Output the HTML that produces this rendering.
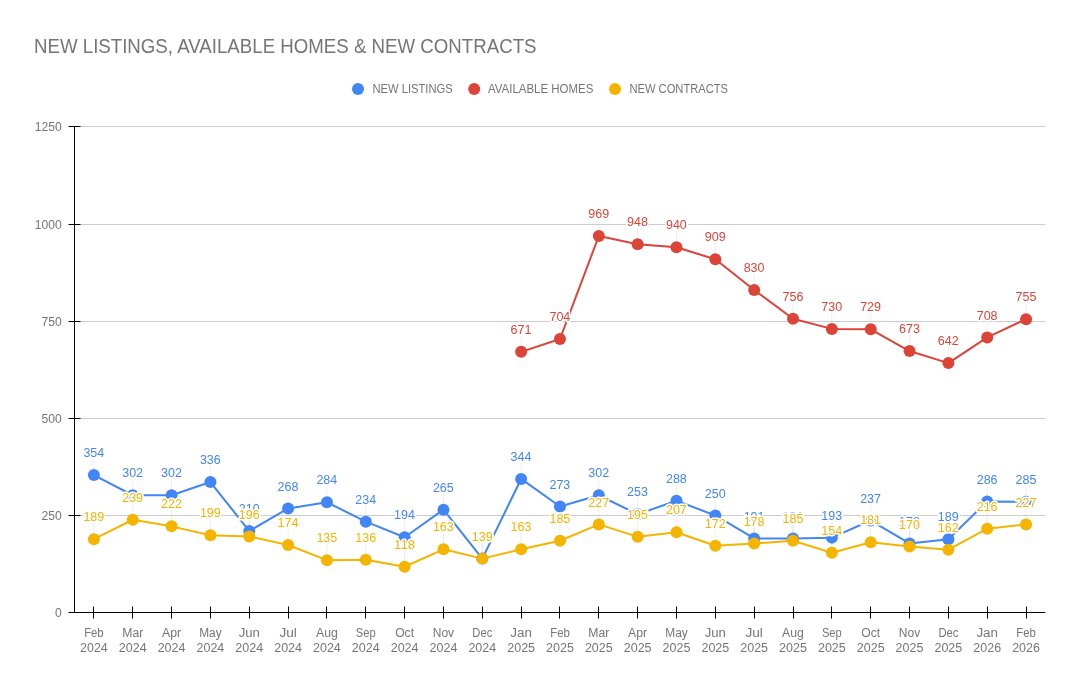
<!DOCTYPE html>
<html lang="en"><head><meta charset="utf-8"><title>NEW LISTINGS, AVAILABLE HOMES &amp; NEW CONTRACTS</title>
<style>
html,body{margin:0;padding:0;background:#fff;}
body{width:1080px;height:689px;overflow:hidden;}
svg{display:block;font-family:"Liberation Sans",sans-serif;}
text{font-size:12px;}
.t{font-size:20px;fill:#757575;}
.g{fill:#757575;}
.lg{fill:#757575;}
.a{text-anchor:middle;stroke:#fff;stroke-width:3px;stroke-linejoin:round;paint-order:stroke fill;}
.x{text-anchor:middle;fill:#757575;}
.y{text-anchor:end;fill:#757575;}
.grid line{stroke:#ccc;stroke-width:1;}
.ax line{stroke:#000;stroke-width:1;}
.stem line{stroke:#999;stroke-opacity:.18;stroke-width:1;}
</style></head><body>
<svg width="1080" height="689" viewBox="0 0 1080 689">
<rect width="1080" height="689" fill="#fff"/>
<text class="t" x="34" y="53" textLength="502.5" lengthAdjust="spacingAndGlyphs">NEW LISTINGS, AVAILABLE HOMES &amp; NEW CONTRACTS</text>
<circle cx="358" cy="89" r="6" fill="#4285f4"/><text class="lg" x="372.5" y="93" textLength="80.14" lengthAdjust="spacingAndGlyphs">NEW LISTINGS</text>
<circle cx="474.2" cy="89" r="6" fill="#db4437"/><text class="lg" x="488" y="93" textLength="105.4" lengthAdjust="spacingAndGlyphs">AVAILABLE HOMES</text>
<circle cx="615" cy="89" r="6" fill="#f4b400"/><text class="lg" x="629.5" y="93" textLength="98.5" lengthAdjust="spacingAndGlyphs">NEW CONTRACTS</text>
<g class="grid">
<line x1="74.5" x2="1045.5" y1="515.5" y2="515.5"/>
<line x1="74.5" x2="1045.5" y1="418.5" y2="418.5"/>
<line x1="74.5" x2="1045.5" y1="321.5" y2="321.5"/>
<line x1="74.5" x2="1045.5" y1="224.5" y2="224.5"/>
<line x1="74.5" x2="1045.5" y1="126.5" y2="126.5"/>
</g>
<g class="ax">
<line x1="74.5" x2="74.5" y1="126" y2="613"/>
<line x1="68.5" x2="1045.5" y1="612.5" y2="612.5"/>
<line x1="68.5" x2="80.5" y1="515.5" y2="515.5"/>
<line x1="68.5" x2="80.5" y1="418.5" y2="418.5"/>
<line x1="68.5" x2="80.5" y1="321.5" y2="321.5"/>
<line x1="68.5" x2="80.5" y1="224.5" y2="224.5"/>
<line x1="68.5" x2="80.5" y1="126.5" y2="126.5"/>
<line x1="93.5" x2="93.5" y1="606.5" y2="618.5"/>
<line x1="132.5" x2="132.5" y1="606.5" y2="618.5"/>
<line x1="171.5" x2="171.5" y1="606.5" y2="618.5"/>
<line x1="210.5" x2="210.5" y1="606.5" y2="618.5"/>
<line x1="249.5" x2="249.5" y1="606.5" y2="618.5"/>
<line x1="288.5" x2="288.5" y1="606.5" y2="618.5"/>
<line x1="326.5" x2="326.5" y1="606.5" y2="618.5"/>
<line x1="365.5" x2="365.5" y1="606.5" y2="618.5"/>
<line x1="404.5" x2="404.5" y1="606.5" y2="618.5"/>
<line x1="443.5" x2="443.5" y1="606.5" y2="618.5"/>
<line x1="482.5" x2="482.5" y1="606.5" y2="618.5"/>
<line x1="521.5" x2="521.5" y1="606.5" y2="618.5"/>
<line x1="559.5" x2="559.5" y1="606.5" y2="618.5"/>
<line x1="598.5" x2="598.5" y1="606.5" y2="618.5"/>
<line x1="637.5" x2="637.5" y1="606.5" y2="618.5"/>
<line x1="676.5" x2="676.5" y1="606.5" y2="618.5"/>
<line x1="715.5" x2="715.5" y1="606.5" y2="618.5"/>
<line x1="754.5" x2="754.5" y1="606.5" y2="618.5"/>
<line x1="793.5" x2="793.5" y1="606.5" y2="618.5"/>
<line x1="831.5" x2="831.5" y1="606.5" y2="618.5"/>
<line x1="870.5" x2="870.5" y1="606.5" y2="618.5"/>
<line x1="909.5" x2="909.5" y1="606.5" y2="618.5"/>
<line x1="948.5" x2="948.5" y1="606.5" y2="618.5"/>
<line x1="987.5" x2="987.5" y1="606.5" y2="618.5"/>
<line x1="1026.5" x2="1026.5" y1="606.5" y2="618.5"/>
</g>
<text class="y" x="61.8" y="616.7" textLength="6.75" lengthAdjust="spacingAndGlyphs">0</text>
<text class="y" x="61.8" y="519.7" textLength="20.25" lengthAdjust="spacingAndGlyphs">250</text>
<text class="y" x="61.8" y="422.7" textLength="20.25" lengthAdjust="spacingAndGlyphs">500</text>
<text class="y" x="61.8" y="325.7" textLength="20.25" lengthAdjust="spacingAndGlyphs">750</text>
<text class="y" x="61.8" y="228.7" textLength="27.00" lengthAdjust="spacingAndGlyphs">1000</text>
<text class="y" x="61.8" y="130.7" textLength="27.00" lengthAdjust="spacingAndGlyphs">1250</text>
<text class="x" x="93.90" y="637" textLength="19.5" lengthAdjust="spacingAndGlyphs">Feb</text><text class="x" x="93.90" y="652" textLength="27.80" lengthAdjust="spacingAndGlyphs">2024</text>
<text class="x" x="132.74" y="637" textLength="21.0" lengthAdjust="spacingAndGlyphs">Mar</text><text class="x" x="132.74" y="652" textLength="27.80" lengthAdjust="spacingAndGlyphs">2024</text>
<text class="x" x="171.58" y="637" textLength="19.1" lengthAdjust="spacingAndGlyphs">Apr</text><text class="x" x="171.58" y="652" textLength="27.80" lengthAdjust="spacingAndGlyphs">2024</text>
<text class="x" x="210.42" y="637" textLength="22.4" lengthAdjust="spacingAndGlyphs">May</text><text class="x" x="210.42" y="652" textLength="27.80" lengthAdjust="spacingAndGlyphs">2024</text>
<text class="x" x="249.26" y="637" textLength="21.2" lengthAdjust="spacingAndGlyphs">Jun</text><text class="x" x="249.26" y="652" textLength="27.80" lengthAdjust="spacingAndGlyphs">2024</text>
<text class="x" x="288.10" y="637" textLength="17.4" lengthAdjust="spacingAndGlyphs">Jul</text><text class="x" x="288.10" y="652" textLength="27.80" lengthAdjust="spacingAndGlyphs">2024</text>
<text class="x" x="326.94" y="637" textLength="21.8" lengthAdjust="spacingAndGlyphs">Aug</text><text class="x" x="326.94" y="652" textLength="27.80" lengthAdjust="spacingAndGlyphs">2024</text>
<text class="x" x="365.78" y="637" textLength="19.85" lengthAdjust="spacingAndGlyphs">Sep</text><text class="x" x="365.78" y="652" textLength="27.80" lengthAdjust="spacingAndGlyphs">2024</text>
<text class="x" x="404.62" y="637" textLength="18.9" lengthAdjust="spacingAndGlyphs">Oct</text><text class="x" x="404.62" y="652" textLength="27.80" lengthAdjust="spacingAndGlyphs">2024</text>
<text class="x" x="443.46" y="637" textLength="21.34" lengthAdjust="spacingAndGlyphs">Nov</text><text class="x" x="443.46" y="652" textLength="27.80" lengthAdjust="spacingAndGlyphs">2024</text>
<text class="x" x="482.30" y="637" textLength="19.9" lengthAdjust="spacingAndGlyphs">Dec</text><text class="x" x="482.30" y="652" textLength="27.80" lengthAdjust="spacingAndGlyphs">2024</text>
<text class="x" x="521.14" y="637" textLength="21.6" lengthAdjust="spacingAndGlyphs">Jan</text><text class="x" x="521.14" y="652" textLength="27.80" lengthAdjust="spacingAndGlyphs">2025</text>
<text class="x" x="559.98" y="637" textLength="19.5" lengthAdjust="spacingAndGlyphs">Feb</text><text class="x" x="559.98" y="652" textLength="27.80" lengthAdjust="spacingAndGlyphs">2025</text>
<text class="x" x="598.82" y="637" textLength="21.0" lengthAdjust="spacingAndGlyphs">Mar</text><text class="x" x="598.82" y="652" textLength="27.80" lengthAdjust="spacingAndGlyphs">2025</text>
<text class="x" x="637.66" y="637" textLength="19.1" lengthAdjust="spacingAndGlyphs">Apr</text><text class="x" x="637.66" y="652" textLength="27.80" lengthAdjust="spacingAndGlyphs">2025</text>
<text class="x" x="676.50" y="637" textLength="22.4" lengthAdjust="spacingAndGlyphs">May</text><text class="x" x="676.50" y="652" textLength="27.80" lengthAdjust="spacingAndGlyphs">2025</text>
<text class="x" x="715.34" y="637" textLength="21.2" lengthAdjust="spacingAndGlyphs">Jun</text><text class="x" x="715.34" y="652" textLength="27.80" lengthAdjust="spacingAndGlyphs">2025</text>
<text class="x" x="754.18" y="637" textLength="17.4" lengthAdjust="spacingAndGlyphs">Jul</text><text class="x" x="754.18" y="652" textLength="27.80" lengthAdjust="spacingAndGlyphs">2025</text>
<text class="x" x="793.02" y="637" textLength="21.8" lengthAdjust="spacingAndGlyphs">Aug</text><text class="x" x="793.02" y="652" textLength="27.80" lengthAdjust="spacingAndGlyphs">2025</text>
<text class="x" x="831.86" y="637" textLength="19.85" lengthAdjust="spacingAndGlyphs">Sep</text><text class="x" x="831.86" y="652" textLength="27.80" lengthAdjust="spacingAndGlyphs">2025</text>
<text class="x" x="870.70" y="637" textLength="18.9" lengthAdjust="spacingAndGlyphs">Oct</text><text class="x" x="870.70" y="652" textLength="27.80" lengthAdjust="spacingAndGlyphs">2025</text>
<text class="x" x="909.54" y="637" textLength="21.34" lengthAdjust="spacingAndGlyphs">Nov</text><text class="x" x="909.54" y="652" textLength="27.80" lengthAdjust="spacingAndGlyphs">2025</text>
<text class="x" x="948.38" y="637" textLength="19.9" lengthAdjust="spacingAndGlyphs">Dec</text><text class="x" x="948.38" y="652" textLength="27.80" lengthAdjust="spacingAndGlyphs">2025</text>
<text class="x" x="987.22" y="637" textLength="21.6" lengthAdjust="spacingAndGlyphs">Jan</text><text class="x" x="987.22" y="652" textLength="27.80" lengthAdjust="spacingAndGlyphs">2026</text>
<text class="x" x="1026.06" y="637" textLength="19.5" lengthAdjust="spacingAndGlyphs">Feb</text><text class="x" x="1026.06" y="652" textLength="27.80" lengthAdjust="spacingAndGlyphs">2026</text>
<path d="M93.90,475.05 L132.74,495.26 L171.58,495.26 L210.42,482.05 L249.26,531.02 L288.10,508.48 L326.94,502.26 L365.78,521.69 L404.62,537.24 L443.46,509.64 L482.30,558.62 L521.14,478.94 L559.98,506.53 L598.82,495.26 L637.66,514.31 L676.50,500.70 L715.34,515.48 L754.18,538.41 L793.02,538.41 L831.86,537.63 L870.70,520.53 L909.54,543.46 L948.38,539.19 L987.22,501.48 L1026.06,501.87" fill="none" stroke="#4285f4" stroke-width="2" stroke-linejoin="round" stroke-linecap="round"/>
<path d="M521.14,351.83 L559.98,339.01 L598.82,236.00 L637.66,244.16 L676.50,247.27 L715.34,259.32 L754.18,290.03 L793.02,318.79 L831.86,328.90 L870.70,329.29 L909.54,351.05 L948.38,363.10 L987.22,337.45 L1026.06,319.18" fill="none" stroke="#db4437" stroke-width="2" stroke-linejoin="round" stroke-linecap="round"/>
<path d="M93.90,539.19 L132.74,519.75 L171.58,526.36 L210.42,535.30 L249.26,536.46 L288.10,545.02 L326.94,560.18 L365.78,559.79 L404.62,566.78 L443.46,549.29 L482.30,558.62 L521.14,549.29 L559.98,540.74 L598.82,524.42 L637.66,536.85 L676.50,532.19 L715.34,545.79 L754.18,543.46 L793.02,540.74 L831.86,552.79 L870.70,542.30 L909.54,546.57 L948.38,549.68 L987.22,528.69 L1026.06,524.42" fill="none" stroke="#f4b400" stroke-width="2" stroke-linejoin="round" stroke-linecap="round"/>
<g class="stem">
<line x1="93.90" x2="93.90" y1="459.1" y2="470.1"/>
<line x1="132.74" x2="132.74" y1="479.3" y2="490.3"/>
<line x1="171.58" x2="171.58" y1="479.3" y2="490.3"/>
<line x1="210.42" x2="210.42" y1="466.0" y2="477.0"/>
<line x1="249.26" x2="249.26" y1="515.0" y2="526.0"/>
<line x1="288.10" x2="288.10" y1="492.5" y2="503.5"/>
<line x1="326.94" x2="326.94" y1="486.3" y2="497.3"/>
<line x1="365.78" x2="365.78" y1="505.7" y2="516.7"/>
<line x1="404.62" x2="404.62" y1="521.2" y2="532.2"/>
<line x1="443.46" x2="443.46" y1="493.6" y2="504.6"/>
<line x1="482.30" x2="482.30" y1="542.6" y2="553.6"/>
<line x1="521.14" x2="521.14" y1="462.9" y2="473.9"/>
<line x1="559.98" x2="559.98" y1="490.5" y2="501.5"/>
<line x1="598.82" x2="598.82" y1="479.3" y2="490.3"/>
<line x1="637.66" x2="637.66" y1="498.3" y2="509.3"/>
<line x1="676.50" x2="676.50" y1="484.7" y2="495.7"/>
<line x1="715.34" x2="715.34" y1="499.5" y2="510.5"/>
<line x1="754.18" x2="754.18" y1="522.4" y2="533.4"/>
<line x1="793.02" x2="793.02" y1="522.4" y2="533.4"/>
<line x1="831.86" x2="831.86" y1="521.6" y2="532.6"/>
<line x1="870.70" x2="870.70" y1="504.5" y2="515.5"/>
<line x1="909.54" x2="909.54" y1="527.5" y2="538.5"/>
<line x1="948.38" x2="948.38" y1="523.2" y2="534.2"/>
<line x1="987.22" x2="987.22" y1="485.5" y2="496.5"/>
<line x1="1026.06" x2="1026.06" y1="485.9" y2="496.9"/>
<line x1="521.14" x2="521.14" y1="335.8" y2="346.8"/>
<line x1="559.98" x2="559.98" y1="323.0" y2="334.0"/>
<line x1="598.82" x2="598.82" y1="220.0" y2="231.0"/>
<line x1="637.66" x2="637.66" y1="228.2" y2="239.2"/>
<line x1="676.50" x2="676.50" y1="231.3" y2="242.3"/>
<line x1="715.34" x2="715.34" y1="243.3" y2="254.3"/>
<line x1="754.18" x2="754.18" y1="274.0" y2="285.0"/>
<line x1="793.02" x2="793.02" y1="302.8" y2="313.8"/>
<line x1="831.86" x2="831.86" y1="312.9" y2="323.9"/>
<line x1="870.70" x2="870.70" y1="313.3" y2="324.3"/>
<line x1="909.54" x2="909.54" y1="335.1" y2="346.1"/>
<line x1="948.38" x2="948.38" y1="347.1" y2="358.1"/>
<line x1="987.22" x2="987.22" y1="321.5" y2="332.5"/>
<line x1="1026.06" x2="1026.06" y1="303.2" y2="314.2"/>
<line x1="93.90" x2="93.90" y1="523.2" y2="534.2"/>
<line x1="132.74" x2="132.74" y1="503.8" y2="514.8"/>
<line x1="171.58" x2="171.58" y1="510.4" y2="521.4"/>
<line x1="210.42" x2="210.42" y1="519.3" y2="530.3"/>
<line x1="249.26" x2="249.26" y1="520.5" y2="531.5"/>
<line x1="288.10" x2="288.10" y1="529.0" y2="540.0"/>
<line x1="326.94" x2="326.94" y1="544.2" y2="555.2"/>
<line x1="365.78" x2="365.78" y1="543.8" y2="554.8"/>
<line x1="404.62" x2="404.62" y1="550.8" y2="561.8"/>
<line x1="443.46" x2="443.46" y1="533.3" y2="544.3"/>
<line x1="482.30" x2="482.30" y1="542.6" y2="553.6"/>
<line x1="521.14" x2="521.14" y1="533.3" y2="544.3"/>
<line x1="559.98" x2="559.98" y1="524.7" y2="535.7"/>
<line x1="598.82" x2="598.82" y1="508.4" y2="519.4"/>
<line x1="637.66" x2="637.66" y1="520.9" y2="531.9"/>
<line x1="676.50" x2="676.50" y1="516.2" y2="527.2"/>
<line x1="715.34" x2="715.34" y1="529.8" y2="540.8"/>
<line x1="754.18" x2="754.18" y1="527.5" y2="538.5"/>
<line x1="793.02" x2="793.02" y1="524.7" y2="535.7"/>
<line x1="831.86" x2="831.86" y1="536.8" y2="547.8"/>
<line x1="870.70" x2="870.70" y1="526.3" y2="537.3"/>
<line x1="909.54" x2="909.54" y1="530.6" y2="541.6"/>
<line x1="948.38" x2="948.38" y1="533.7" y2="544.7"/>
<line x1="987.22" x2="987.22" y1="512.7" y2="523.7"/>
<line x1="1026.06" x2="1026.06" y1="508.4" y2="519.4"/>
</g>
<g fill="#4285f4">
<circle cx="93.90" cy="475.05" r="6"/>
<circle cx="132.74" cy="495.26" r="6"/>
<circle cx="171.58" cy="495.26" r="6"/>
<circle cx="210.42" cy="482.05" r="6"/>
<circle cx="249.26" cy="531.02" r="6"/>
<circle cx="288.10" cy="508.48" r="6"/>
<circle cx="326.94" cy="502.26" r="6"/>
<circle cx="365.78" cy="521.69" r="6"/>
<circle cx="404.62" cy="537.24" r="6"/>
<circle cx="443.46" cy="509.64" r="6"/>
<circle cx="482.30" cy="558.62" r="6"/>
<circle cx="521.14" cy="478.94" r="6"/>
<circle cx="559.98" cy="506.53" r="6"/>
<circle cx="598.82" cy="495.26" r="6"/>
<circle cx="637.66" cy="514.31" r="6"/>
<circle cx="676.50" cy="500.70" r="6"/>
<circle cx="715.34" cy="515.48" r="6"/>
<circle cx="754.18" cy="538.41" r="6"/>
<circle cx="793.02" cy="538.41" r="6"/>
<circle cx="831.86" cy="537.63" r="6"/>
<circle cx="870.70" cy="520.53" r="6"/>
<circle cx="909.54" cy="543.46" r="6"/>
<circle cx="948.38" cy="539.19" r="6"/>
<circle cx="987.22" cy="501.48" r="6"/>
<circle cx="1026.06" cy="501.87" r="6"/>
</g>
<g fill="#db4437">
<circle cx="521.14" cy="351.83" r="6"/>
<circle cx="559.98" cy="339.01" r="6"/>
<circle cx="598.82" cy="236.00" r="6"/>
<circle cx="637.66" cy="244.16" r="6"/>
<circle cx="676.50" cy="247.27" r="6"/>
<circle cx="715.34" cy="259.32" r="6"/>
<circle cx="754.18" cy="290.03" r="6"/>
<circle cx="793.02" cy="318.79" r="6"/>
<circle cx="831.86" cy="328.90" r="6"/>
<circle cx="870.70" cy="329.29" r="6"/>
<circle cx="909.54" cy="351.05" r="6"/>
<circle cx="948.38" cy="363.10" r="6"/>
<circle cx="987.22" cy="337.45" r="6"/>
<circle cx="1026.06" cy="319.18" r="6"/>
</g>
<g fill="#f4b400">
<circle cx="93.90" cy="539.19" r="6"/>
<circle cx="132.74" cy="519.75" r="6"/>
<circle cx="171.58" cy="526.36" r="6"/>
<circle cx="210.42" cy="535.30" r="6"/>
<circle cx="249.26" cy="536.46" r="6"/>
<circle cx="288.10" cy="545.02" r="6"/>
<circle cx="326.94" cy="560.18" r="6"/>
<circle cx="365.78" cy="559.79" r="6"/>
<circle cx="404.62" cy="566.78" r="6"/>
<circle cx="443.46" cy="549.29" r="6"/>
<circle cx="482.30" cy="558.62" r="6"/>
<circle cx="521.14" cy="549.29" r="6"/>
<circle cx="559.98" cy="540.74" r="6"/>
<circle cx="598.82" cy="524.42" r="6"/>
<circle cx="637.66" cy="536.85" r="6"/>
<circle cx="676.50" cy="532.19" r="6"/>
<circle cx="715.34" cy="545.79" r="6"/>
<circle cx="754.18" cy="543.46" r="6"/>
<circle cx="793.02" cy="540.74" r="6"/>
<circle cx="831.86" cy="552.79" r="6"/>
<circle cx="870.70" cy="542.30" r="6"/>
<circle cx="909.54" cy="546.57" r="6"/>
<circle cx="948.38" cy="549.68" r="6"/>
<circle cx="987.22" cy="528.69" r="6"/>
<circle cx="1026.06" cy="524.42" r="6"/>
</g>
<g fill="#4285f4">
<text class="a" x="93.80" y="457.15" textLength="20.85" lengthAdjust="spacingAndGlyphs">354</text>
<text class="a" x="132.64" y="477.36" textLength="20.85" lengthAdjust="spacingAndGlyphs">302</text>
<text class="a" x="171.48" y="477.36" textLength="20.85" lengthAdjust="spacingAndGlyphs">302</text>
<text class="a" x="210.32" y="464.15" textLength="20.85" lengthAdjust="spacingAndGlyphs">336</text>
<text class="a" x="249.16" y="513.12" textLength="20.85" lengthAdjust="spacingAndGlyphs">210</text>
<text class="a" x="288.00" y="490.58" textLength="20.85" lengthAdjust="spacingAndGlyphs">268</text>
<text class="a" x="326.84" y="484.36" textLength="20.85" lengthAdjust="spacingAndGlyphs">284</text>
<text class="a" x="365.68" y="503.79" textLength="20.85" lengthAdjust="spacingAndGlyphs">234</text>
<text class="a" x="404.52" y="519.34" textLength="20.85" lengthAdjust="spacingAndGlyphs">194</text>
<text class="a" x="443.36" y="491.74" textLength="20.85" lengthAdjust="spacingAndGlyphs">265</text>
<text class="a" x="482.20" y="540.72" textLength="20.85" lengthAdjust="spacingAndGlyphs">139</text>
<text class="a" x="521.04" y="461.04" textLength="20.85" lengthAdjust="spacingAndGlyphs">344</text>
<text class="a" x="559.88" y="488.63" textLength="20.85" lengthAdjust="spacingAndGlyphs">273</text>
<text class="a" x="598.72" y="477.36" textLength="20.85" lengthAdjust="spacingAndGlyphs">302</text>
<text class="a" x="637.56" y="496.41" textLength="20.85" lengthAdjust="spacingAndGlyphs">253</text>
<text class="a" x="676.40" y="482.80" textLength="20.85" lengthAdjust="spacingAndGlyphs">288</text>
<text class="a" x="715.24" y="497.58" textLength="20.85" lengthAdjust="spacingAndGlyphs">250</text>
<text class="a" x="754.08" y="520.51" textLength="20.85" lengthAdjust="spacingAndGlyphs">191</text>
<text class="a" x="792.92" y="520.51" textLength="20.85" lengthAdjust="spacingAndGlyphs">191</text>
<text class="a" x="831.76" y="519.73" textLength="20.85" lengthAdjust="spacingAndGlyphs">193</text>
<text class="a" x="870.60" y="502.63" textLength="20.85" lengthAdjust="spacingAndGlyphs">237</text>
<text class="a" x="909.44" y="525.56" textLength="20.85" lengthAdjust="spacingAndGlyphs">178</text>
<text class="a" x="948.28" y="521.29" textLength="20.85" lengthAdjust="spacingAndGlyphs">189</text>
<text class="a" x="987.12" y="483.58" textLength="20.85" lengthAdjust="spacingAndGlyphs">286</text>
<text class="a" x="1025.96" y="483.97" textLength="20.85" lengthAdjust="spacingAndGlyphs">285</text>
</g>
<g fill="#db4437">
<text class="a" x="521.04" y="333.93" textLength="20.85" lengthAdjust="spacingAndGlyphs">671</text>
<text class="a" x="559.88" y="321.11" textLength="20.85" lengthAdjust="spacingAndGlyphs">704</text>
<text class="a" x="598.72" y="218.10" textLength="20.85" lengthAdjust="spacingAndGlyphs">969</text>
<text class="a" x="637.56" y="226.26" textLength="20.85" lengthAdjust="spacingAndGlyphs">948</text>
<text class="a" x="676.40" y="229.37" textLength="20.85" lengthAdjust="spacingAndGlyphs">940</text>
<text class="a" x="715.24" y="241.42" textLength="20.85" lengthAdjust="spacingAndGlyphs">909</text>
<text class="a" x="754.08" y="272.13" textLength="20.85" lengthAdjust="spacingAndGlyphs">830</text>
<text class="a" x="792.92" y="300.89" textLength="20.85" lengthAdjust="spacingAndGlyphs">756</text>
<text class="a" x="831.76" y="311.00" textLength="20.85" lengthAdjust="spacingAndGlyphs">730</text>
<text class="a" x="870.60" y="311.39" textLength="20.85" lengthAdjust="spacingAndGlyphs">729</text>
<text class="a" x="909.44" y="333.15" textLength="20.85" lengthAdjust="spacingAndGlyphs">673</text>
<text class="a" x="948.28" y="345.20" textLength="20.85" lengthAdjust="spacingAndGlyphs">642</text>
<text class="a" x="987.12" y="319.55" textLength="20.85" lengthAdjust="spacingAndGlyphs">708</text>
<text class="a" x="1025.96" y="301.28" textLength="20.85" lengthAdjust="spacingAndGlyphs">755</text>
</g>
<g fill="#f4b400">
<text class="a" x="93.80" y="521.29" textLength="20.85" lengthAdjust="spacingAndGlyphs">189</text>
<text class="a" x="132.64" y="501.85" textLength="20.85" lengthAdjust="spacingAndGlyphs">239</text>
<text class="a" x="171.48" y="508.46" textLength="20.85" lengthAdjust="spacingAndGlyphs">222</text>
<text class="a" x="210.32" y="517.40" textLength="20.85" lengthAdjust="spacingAndGlyphs">199</text>
<text class="a" x="249.16" y="518.56" textLength="20.85" lengthAdjust="spacingAndGlyphs">196</text>
<text class="a" x="288.00" y="527.12" textLength="20.85" lengthAdjust="spacingAndGlyphs">174</text>
<text class="a" x="326.84" y="542.28" textLength="20.85" lengthAdjust="spacingAndGlyphs">135</text>
<text class="a" x="365.68" y="541.89" textLength="20.85" lengthAdjust="spacingAndGlyphs">136</text>
<text class="a" x="404.52" y="548.88" textLength="20.85" lengthAdjust="spacingAndGlyphs">118</text>
<text class="a" x="443.36" y="531.39" textLength="20.85" lengthAdjust="spacingAndGlyphs">163</text>
<text class="a" x="482.20" y="540.72" textLength="20.85" lengthAdjust="spacingAndGlyphs">139</text>
<text class="a" x="521.04" y="531.39" textLength="20.85" lengthAdjust="spacingAndGlyphs">163</text>
<text class="a" x="559.88" y="522.84" textLength="20.85" lengthAdjust="spacingAndGlyphs">185</text>
<text class="a" x="598.72" y="506.52" textLength="20.85" lengthAdjust="spacingAndGlyphs">227</text>
<text class="a" x="637.56" y="518.95" textLength="20.85" lengthAdjust="spacingAndGlyphs">195</text>
<text class="a" x="676.40" y="514.29" textLength="20.85" lengthAdjust="spacingAndGlyphs">207</text>
<text class="a" x="715.24" y="527.89" textLength="20.85" lengthAdjust="spacingAndGlyphs">172</text>
<text class="a" x="754.08" y="525.56" textLength="20.85" lengthAdjust="spacingAndGlyphs">178</text>
<text class="a" x="792.92" y="522.84" textLength="20.85" lengthAdjust="spacingAndGlyphs">185</text>
<text class="a" x="831.76" y="534.89" textLength="20.85" lengthAdjust="spacingAndGlyphs">154</text>
<text class="a" x="870.60" y="524.40" textLength="20.85" lengthAdjust="spacingAndGlyphs">181</text>
<text class="a" x="909.44" y="528.67" textLength="20.85" lengthAdjust="spacingAndGlyphs">170</text>
<text class="a" x="948.28" y="531.78" textLength="20.85" lengthAdjust="spacingAndGlyphs">162</text>
<text class="a" x="987.12" y="510.79" textLength="20.85" lengthAdjust="spacingAndGlyphs">216</text>
<text class="a" x="1025.96" y="506.52" textLength="20.85" lengthAdjust="spacingAndGlyphs">227</text>
</g>
</svg></body></html>
